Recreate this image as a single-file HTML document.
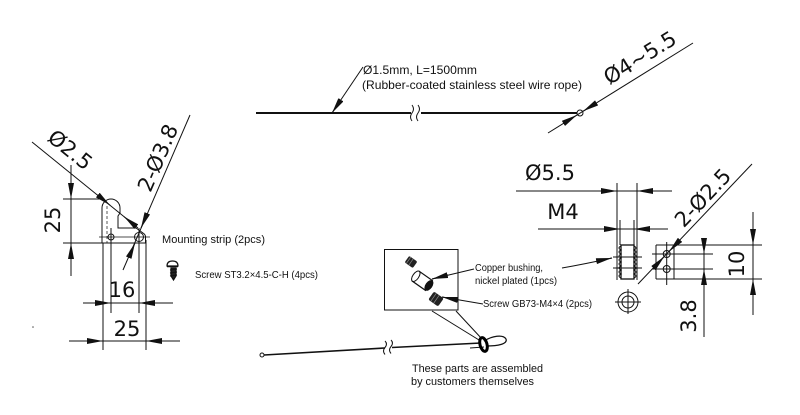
<!DOCTYPE html>
<html><head><meta charset="utf-8"><style>
html,body{margin:0;padding:0;background:#fff;}
svg{display:block;}
.d{font-family:"DejaVu Sans","Liberation Sans",sans-serif;font-size:21px;fill:#111;}
.t{font-family:"Liberation Sans",Arial,sans-serif;fill:#111;}
</style></head><body>
<svg width="800" height="415" viewBox="0 0 800 415" xmlns="http://www.w3.org/2000/svg">
<defs>
<marker id="a" markerUnits="userSpaceOnUse" markerWidth="16" markerHeight="6" refX="16" refY="3" orient="auto" viewBox="0 0 16 6"><path d="M0,0L16,3L0,6z" fill="#111"/></marker>
</defs>
<rect width="800" height="415" fill="#fff"/>
<g stroke="#111" stroke-width="1" fill="none">
<!-- ===== LEFT: mounting strip ===== -->
<path d="M102,243 L102,208 A9,9 0 0 1 120,208 L120,213 L118,216 L118,228 L136,228 L143,233 A5,5 0 0 1 145.5,238 L145.5,243 Z"/>
<line x1="107" y1="206" x2="107" y2="243" stroke-dasharray="3,2" stroke-width="0.7"/>
<circle cx="111" cy="237" r="3"/>
<circle cx="139" cy="237" r="4.5"/>
<line x1="99" y1="237" x2="150" y2="237" stroke-width="0.7"/>
<!-- extension lines -->
<line x1="103" y1="243" x2="103" y2="350"/>
<line x1="146" y1="240" x2="146" y2="350"/>
<line x1="111" y1="228" x2="111" y2="313"/>
<line x1="139" y1="228" x2="139" y2="313"/>
<line x1="63" y1="199" x2="103" y2="199"/>
<line x1="63" y1="243" x2="103" y2="243"/>
<!-- 25 vertical -->
<line x1="71" y1="165" x2="71" y2="276"/>
<line x1="71" y1="183" x2="71" y2="199" marker-end="url(#a)"/>
<line x1="71" y1="259" x2="71" y2="243" marker-end="url(#a)"/>
<!-- 16 -->
<line x1="83" y1="303" x2="173" y2="303"/>
<line x1="95" y1="303" x2="111" y2="303" marker-end="url(#a)"/>
<line x1="155" y1="303" x2="139" y2="303" marker-end="url(#a)"/>
<!-- 25 horizontal -->
<line x1="69" y1="341" x2="180" y2="341"/>
<line x1="87" y1="341" x2="103" y2="341" marker-end="url(#a)"/>
<line x1="162" y1="341" x2="146" y2="341" marker-end="url(#a)"/>
<!-- Ø2.5 leader -->
<line x1="32" y1="142" x2="138" y2="228"/>
<line x1="97.6" y1="194.9" x2="110" y2="205.3" marker-end="url(#a)"/>
<line x1="136.4" y1="226.7" x2="124" y2="216.6" marker-end="url(#a)"/>
<!-- 2-Ø3.8 leader -->
<line x1="190" y1="115" x2="123" y2="270"/>
<line x1="147.3" y1="213.3" x2="141" y2="228" marker-end="url(#a)"/>
<line x1="128.7" y1="257.7" x2="135" y2="243" marker-end="url(#a)"/>
</g>
<circle cx="33" cy="327" r="0.8" fill="#555"/>
<text class="d" transform="translate(70,150) rotate(39)" text-anchor="middle" y="7">Ø2.5</text>
<text class="d" transform="translate(158,158) rotate(-66.6)" text-anchor="middle" y="7">2-Ø3.8</text>
<text class="d" transform="translate(53,220) rotate(-90)" text-anchor="middle" y="7">25</text>
<text class="d" x="122" y="297" text-anchor="middle">16</text>
<text class="d" x="127" y="336" text-anchor="middle">25</text>
<text class="t" x="162" y="243" font-size="11" textLength="103" lengthAdjust="spacingAndGlyphs">Mounting strip (2pcs)</text>
<!-- screw icon -->
<g stroke="#111" fill="#fff" stroke-width="1.2">
<path d="M167,266 Q167,261 172.5,261 Q178,261 178,266 Z"/>
<line x1="167" y1="266.5" x2="178" y2="266.5" stroke-width="1.5"/>
<path d="M171,268 L176,268 L176,276 L173.5,280 L171,276 Z" fill="#222"/>
<path d="M170,270 L177,269 M170,273 L177,272 M170,276 L177,275" stroke-width="1"/>
</g>
<text class="t" x="195" y="278" font-size="10.5" textLength="123" lengthAdjust="spacingAndGlyphs">Screw ST3.2×4.5-C-H (4pcs)</text>

<!-- ===== TOP wire ===== -->
<g stroke="#111" fill="none">
<line x1="256" y1="113" x2="411" y2="113" stroke-width="2"/>
<line x1="421" y1="113" x2="577" y2="113" stroke-width="2"/>
<path d="M412,105 q3,4 0,8 q-3,4 0,8" stroke-width="1"/>
<path d="M418,105 q3,4 0,8 q-3,4 0,8" stroke-width="1"/>
<circle cx="580" cy="113" r="3" stroke-width="1" fill="#fff"/>
<line x1="548" y1="133" x2="693" y2="43" stroke-width="1"/>
<line x1="563.4" y1="123.4" x2="577" y2="115" marker-end="url(#a)" stroke-width="1"/>
<line x1="596.6" y1="102.9" x2="583" y2="111.3" marker-end="url(#a)" stroke-width="1"/>
<line x1="363" y1="67" x2="332" y2="113" stroke-width="1"/>
<line x1="339.8" y1="101.4" x2="332" y2="113" marker-end="url(#a)" stroke-width="1"/>
</g>
<text class="d" transform="translate(640,58) rotate(-31.8)" text-anchor="middle" y="7">Ø4~5.5</text>
<text class="t" x="363" y="74" font-size="12" textLength="114" lengthAdjust="spacingAndGlyphs">Ø1.5mm, L=1500mm</text>
<text class="t" x="362" y="89" font-size="12" textLength="220" lengthAdjust="spacingAndGlyphs">(Rubber-coated stainless steel wire rope)</text>

<!-- ===== RIGHT: bushing ===== -->
<g stroke="#111" fill="none" stroke-width="1">
<line x1="516" y1="191" x2="672" y2="191"/>
<line x1="600" y1="191" x2="617" y2="191" marker-end="url(#a)"/>
<line x1="654" y1="191" x2="637" y2="191" marker-end="url(#a)"/>
<line x1="617" y1="183" x2="617" y2="280"/>
<line x1="637" y1="183" x2="637" y2="280"/>
<line x1="538" y1="229" x2="668" y2="229"/>
<line x1="603" y1="229" x2="620" y2="229" marker-end="url(#a)"/>
<line x1="651" y1="229" x2="634" y2="229" marker-end="url(#a)"/>
<line x1="620" y1="220" x2="620" y2="245"/>
<line x1="634" y1="220" x2="634" y2="245"/>
<rect x="621" y="245" width="13" height="34" stroke-width="1.3"/>
<path d="M621,246 q-4,2 0,4 q-4,2 0,4 q-4,2 0,4 q-4,2 0,4 q-4,2 0,4 q-4,2 0,4 q-4,2 0,4 q-4,2 0,4"/>
<path d="M634,246 q4,2 0,4 q4,2 0,4 q4,2 0,4 q4,2 0,4 q4,2 0,4 q4,2 0,4 q4,2 0,4 q4,2 0,4"/>
<line x1="613" y1="257" x2="642" y2="257"/>
<line x1="613" y1="268" x2="642" y2="268"/>
<circle cx="628" cy="302" r="10"/>
<circle cx="628" cy="302" r="6"/>
<line x1="615" y1="302" x2="641" y2="302"/>
<line x1="628" y1="289" x2="628" y2="314"/>
<!-- side view -->
<line x1="656" y1="245" x2="656" y2="279"/>
<line x1="674" y1="245" x2="674" y2="279"/>
<line x1="656" y1="245" x2="762" y2="245"/>
<line x1="656" y1="279" x2="762" y2="279"/>
<line x1="652" y1="254" x2="713" y2="254"/>
<line x1="652" y1="269" x2="713" y2="269"/>
<circle cx="666.7" cy="254" r="3.5"/>
<circle cx="666.7" cy="269" r="3.5"/>
<line x1="666.7" y1="242" x2="666.7" y2="285"/>
<!-- 3.8 -->
<line x1="704" y1="238" x2="704" y2="337"/>
<line x1="704" y1="238" x2="704" y2="254" marker-end="url(#a)"/>
<line x1="704" y1="285" x2="704" y2="269" marker-end="url(#a)"/>
<!-- 10 -->
<line x1="753" y1="212" x2="753" y2="315"/>
<line x1="753" y1="229" x2="753" y2="245" marker-end="url(#a)"/>
<line x1="753" y1="295" x2="753" y2="279" marker-end="url(#a)"/>
<!-- 2-Ø2.5 leader -->
<line x1="752" y1="164" x2="638" y2="284"/>
<line x1="678.7" y1="241.3" x2="669.1" y2="251.5" marker-end="url(#a)"/>
<line x1="654.7" y1="266.7" x2="664.3" y2="256.5" marker-end="url(#a)"/>
</g>
<text class="d" x="550" y="180" text-anchor="middle">Ø5.5</text>
<text class="d" x="563" y="219" text-anchor="middle">M4</text>
<text class="d" transform="translate(703,198) rotate(-46.6)" text-anchor="middle" y="7">2-Ø2.5</text>
<text class="d" transform="translate(689,316) rotate(-90)" text-anchor="middle" y="7">3.8</text>
<text class="d" transform="translate(737,264) rotate(-90)" text-anchor="middle" y="7">10</text>

<!-- ===== MIDDLE: assembly ===== -->
<g stroke="#111" fill="none" stroke-width="1">
<rect x="384.5" y="249.5" width="73.5" height="60.5"/>
<line x1="432" y1="311" x2="479" y2="340"/>
<line x1="456" y1="311" x2="482" y2="339"/>
<!-- copper bushing leader -->
<path d="M474,269 L432,279"/>
<line x1="448" y1="275" x2="432" y2="279" marker-end="url(#a)"/>
<path d="M483,304 L442,297"/>
<line x1="458" y1="300" x2="442" y2="297" marker-end="url(#a)"/>
<!-- right leader to bushing from label -->
<path d="M562,268 Q585,264 612,258"/>
<line x1="597" y1="261" x2="612" y2="258" marker-end="url(#a)"/>
<!-- bottom wire -->
<line x1="264" y1="355" x2="385" y2="348" stroke-width="1.6"/>
<line x1="392" y1="347.5" x2="481" y2="343" stroke-width="1.6"/>
<path d="M385,341 q3,3 0,6.5 q-3,3.5 0,7" />
<path d="M391,340 q3,3 0,6.5 q-3,3.5 0,7" />
<circle cx="262" cy="355" r="2" fill="#fff"/>
<line x1="470" y1="348" x2="484" y2="347"/>
<path d="M484,341 C492,336 503,334 506,339 C508,344 498,346 486,346" stroke-width="1.2"/>
</g>
<ellipse cx="483.5" cy="344.5" rx="3.5" ry="7" fill="none" stroke="#000" stroke-width="3" transform="rotate(-15 483.5 344.5)"/>
<!-- parts in box -->
<g transform="rotate(35 411 262)"><rect x="406" y="258" width="10" height="8" rx="1.5" fill="#222"/><line x1="408" y1="258" x2="408" y2="266" stroke="#888" stroke-width="0.7"/><line x1="411" y1="258" x2="411" y2="266" stroke="#888" stroke-width="0.7"/></g>
<g transform="rotate(35 424 282)">
<rect x="414" y="276" width="16" height="12" fill="#fff" stroke="#111" stroke-width="1.2"/>
<ellipse cx="430" cy="282" rx="3.5" ry="6" fill="#111"/>
<ellipse cx="414" cy="282" rx="3" ry="6" fill="#fff" stroke="#111" stroke-width="1"/>
</g>
<g transform="rotate(35 436 299)"><rect x="430" y="294" width="12" height="10" rx="2" fill="#222"/><line x1="433" y1="294" x2="433" y2="304" stroke="#888" stroke-width="0.7"/><line x1="436.5" y1="294" x2="436.5" y2="304" stroke="#888" stroke-width="0.7"/></g>
<text class="t" x="475" y="271" font-size="10" textLength="68" lengthAdjust="spacingAndGlyphs">Copper bushing,</text>
<text class="t" x="475" y="284" font-size="10" textLength="82" lengthAdjust="spacingAndGlyphs">nickel plated (1pcs)</text>
<text class="t" x="483" y="307" font-size="10" textLength="109" lengthAdjust="spacingAndGlyphs">Screw GB73-M4×4 (2pcs)</text>
<text class="t" x="412" y="372" font-size="11" textLength="131" lengthAdjust="spacingAndGlyphs">These parts are assembled</text>
<text class="t" x="411" y="385" font-size="11" textLength="123" lengthAdjust="spacingAndGlyphs">by customers themselves</text>
</svg>
</body></html>
